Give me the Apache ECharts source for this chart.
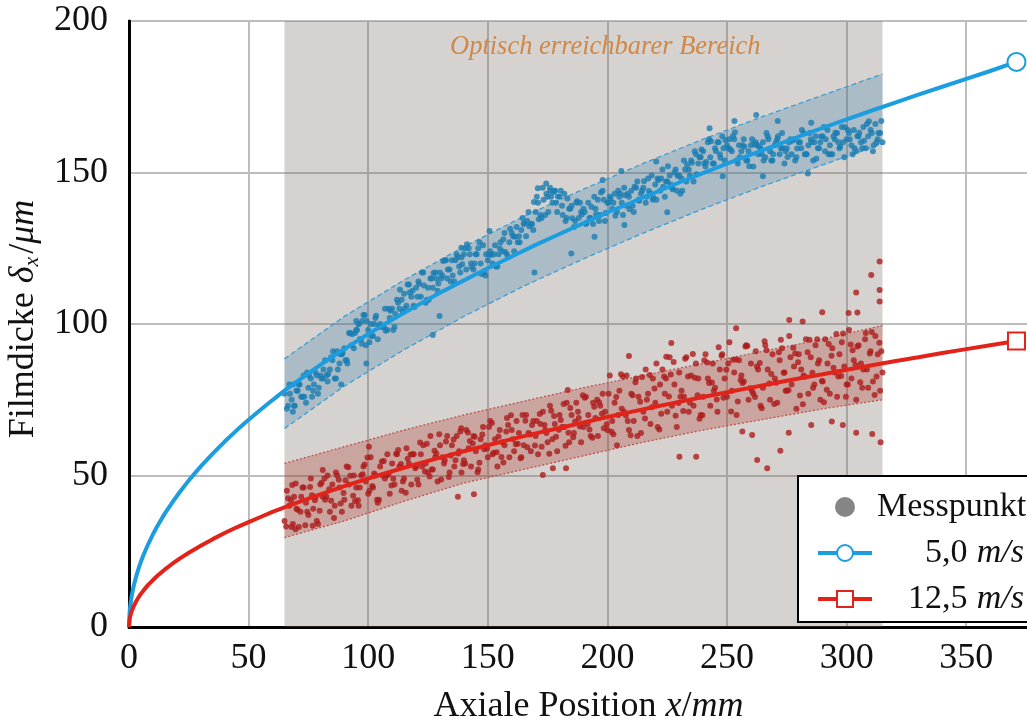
<!DOCTYPE html>
<html>
<head>
<meta charset="utf-8">
<script src="https://cdn.jsdelivr.net/npm/echarts@6/dist/echarts.min.js"></script>
<style>
    html, body { margin: 0; padding: 0; background: #fff; }
    #chart { width: 1027px; height: 724px; }
</style>
</head>
<body>
<div id="chart"></div>
<script>
// fitted curves
const fitX = [0, 0.25, 0.5, 1, 1.5, 2, 3, 4, 5, 6, 8, 10, 12, 15, 18, 21, 25, 30, 35, 40, 45, 50, 55, 60, 65, 70,
    80, 90, 100, 110, 120, 130, 140, 150, 160, 170, 180, 190, 200, 210, 220, 230, 240, 250, 260, 270, 280, 290,
    300, 310, 320, 330, 340, 350, 360, 371];
const blueFit = [0, 4.8, 6.8, 9.7, 11.8, 13.7, 16.7, 19.3, 21.6, 23.7, 27.3, 30.6, 33.5, 37.5, 41, 44.3, 48.4, 53, 57.2, 61.2, 64.9, 68.4, 71.7, 74.9, 78, 80.9,
    86.5, 91.7, 96.7, 101.4, 105.9, 110.3, 114.4, 118.4, 122.3, 126.1, 129.7, 133.3, 136.8, 140.1, 143.4, 146.7, 149.8, 152.9, 155.9, 158.9, 161.8, 164.7,
    167.5, 170.3, 173, 175.7, 178.3, 180.9, 183.5, 186.5];
const redFit = [0, 2.5, 3.5, 4.9, 6, 6.9, 8.5, 9.8, 11, 12, 13.9, 15.5, 17, 19, 20.8, 22.5, 24.5, 26.8, 29, 31, 32.9, 34.6, 36.3, 38, 39.5, 41,
    43.8, 46.5, 49, 51.4, 53.7, 55.9, 58, 60, 62, 63.9, 65.7, 67.5, 69.3, 71, 72.7, 74.3, 75.9, 77.5, 79, 80.5, 82, 83.4,
    84.9, 86.3, 87.7, 89, 90.4, 91.7, 93, 94.4];

// uncertainty bands
const bandX = [65, 90, 115, 140, 165, 190, 215, 240, 265, 290, 315];
const blueUpper = [88.5, 102.5, 114.5, 125.5, 135.5, 144.5, 153, 161, 168.5, 175.5, 182.5];
const blueLower = [65.5, 79.5, 91.5, 102.5, 112.5, 121.5, 130, 138, 145.5, 152.5, 159.5];
const redUpper = [54, 59.5, 65, 70, 74.5, 79, 83, 87, 91, 95, 99.5];
const redLower = [29.5, 35, 41.5, 47.5, 52, 56.5, 61, 65, 68.5, 72, 75];

// optically reachable range
const shadeRange = [65, 315];
const shadeLabel = 'Optisch erreichbarer Bereich';

const legendNames = ['Messpunkt', '5,0 m/s', '12,5 m/s'];

// measured points, 5,0 m/s
const bluePoints = [
    [65,77],[66,72],[67,80],[68,75],[69,73],[70,78],[71,80],[72,76],[73,83],[74,74],
    [75,79],[76,82],[77,78],[78,84],[79,77],[80,83],[81,82],[82,88],[83,81],[84,85],
    [85,88],[86,82],[87,91],[88,87],[89,90],[90,92],[91,88],[92,97],[93,93],[94,92],
    [95,98],[96,100],[97,95],[98,103],[99,93],[100,98],[101,100],[102,96],[103,102],[104,95],
    [105,100],[106,99],[107,105],[108,98],[109,102],[110,105],[111,99],[112,108],[113,105],[114,108],
    [115,110],[116,106],[117,113],[118,109],[119,106],[120,112],[121,114],[122,109],[123,117],[124,107],
    [125,112],[126,115],[127,112],[128,117],[129,111],[130,117],[131,116],[132,121],[133,115],[134,118],
    [135,121],[136,114],[137,123],[138,119],[139,122],[140,123],[141,118],[142,125],[143,120],[144,118],
    [145,123],[146,125],[147,120],[148,126],[149,116],[150,121],[151,124],[152,120],[153,126],[154,119],
    [155,125],[156,124],[157,130],[158,123],[159,127],[160,130],[161,124],[162,132],[163,129],[164,131],
    [165,133],[166,129],[167,137],[168,133],[169,131],[170,137],[171,140],[172,136],[173,145],[174,136],
    [175,142],[176,144],[177,140],[178,144],[179,137],[180,142],[181,139],[182,143],[183,135],[184,138],
    [185,139],[186,132],[187,140],[188,135],[189,137],[190,138],[191,133],[192,140],[193,135],[194,133],
    [195,138],[196,141],[197,136],[198,144],[199,134],[200,140],[201,142],[202,138],[203,143],[204,137],
    [205,142],[206,140],[207,145],[208,139],[209,142],[210,144],[211,137],[212,145],[213,141],[214,143],
    [215,145],[216,140],[217,148],[218,143],[219,141],[220,146],[221,148],[222,144],[223,151],[224,142],
    [225,147],[226,149],[227,145],[228,150],[229,144],[230,149],[231,148],[232,154],[233,147],[234,151],
    [235,154],[236,147],[237,156],[238,153],[239,155],[240,157],[241,152],[242,160],[243,155],[244,153],
    [245,158],[246,160],[247,156],[248,162],[249,154],[250,159],[251,161],[252,157],[253,161],[254,154],
    [255,159],[256,157],[257,161],[258,154],[259,157],[260,159],[261,152],[262,160],[263,156],[264,158],
    [265,160],[266,155],[267,162],[268,157],[269,154],[270,159],[271,161],[272,156],[273,163],[274,153],
    [275,158],[276,160],[277,156],[278,161],[279,155],[280,160],[281,158],[282,163],[283,156],[284,159],
    [285,161],[286,154],[287,162],[288,158],[289,160],[290,162],[291,157],[292,164],[293,159],[294,156],
    [295,161],[296,163],[297,158],[298,165],[299,155],[300,161],[301,163],[302,159],[303,164],[304,157],
    [305,162],[306,160],[307,165],[308,158],[309,162],[310,164],[311,157],[312,166],[313,161],[314,163],[315,160],
    [66.5,73],[68.5,80],[70.5,78],[72.5,76],[74.5,84],[76.5,76],[78.5,83],[80.5,82],[82.5,83],[84.5,89],
    [86.5,82],[88.5,90],[90.5,88],[92.5,97],[94.5,97],[96.5,95],[98.5,103],[100.5,94],[102.5,100],[104.5,99],
    [106.5,99],[108.5,105],[110.5,98],[112.5,107],[114.5,104],[116.5,113],[118.5,111],[120.5,109],[122.5,117],[124.5,108],
    [126.5,115],[128.5,115],[130.5,115],[132.5,121],[134.5,114],[136.5,121],[138.5,117],[140.5,125],[142.5,123],[144.5,120],
    [146.5,127],[148.5,117],[150.5,123],[152.5,123],[154.5,123],[156.5,128],[158.5,122],[160.5,129],[162.5,127],[164.5,135],
    [166.5,134],[168.5,133],[170.5,142],[172.5,135],[174.5,143],[176.5,142],[178.5,140],[180.5,144],[182.5,134],[184.5,138],
    [186.5,134],[188.5,140],[190.5,137],[192.5,135],[194.5,142],[196.5,134],[198.5,141],[200.5,140],[202.5,140],[204.5,144],
    [206.5,136],[208.5,143],[210.5,139],[212.5,147],[214.5,144],[216.5,142],[218.5,149],[220.5,141],[222.5,148],[224.5,147],
    [226.5,146],[228.5,151],[230.5,143],[232.5,151],[234.5,149],[236.5,157],[238.5,155],[240.5,153],[242.5,161],[244.5,153],
    [246.5,160],[248.5,158],[250.5,158],[252.5,162],[254.5,153],[256.5,159],[258.5,154],[260.5,161],[262.5,159],[264.5,156],
    [266.5,163],[268.5,154],[270.5,160],[272.5,158],[274.5,157],[276.5,161],[278.5,154],[280.5,160],[282.5,156],[284.5,163],
    [286.5,160],[288.5,158],[290.5,165],[292.5,156],[294.5,162],[296.5,160],[298.5,160],[300.5,164],[302.5,156],[304.5,162],
    [306.5,158],[308.5,166],[310.5,163],[312.5,160],[314.5,167],
    [67.3,77],[69.3,73],[71.3,80],[73.3,76],[75.3,83],[77.3,80],[79.3,79],[81.3,85],[83.3,83.5],[85.3,91],
    [87.3,85],[89.3,90.5],[91.3,87],[93.3,96.6],[95.3,98],[97.3,93.5],[99.3,101],[101.3,96],[103.3,102.7],[105.3,99.2],
    [107.3,97.8],[109.3,104.4],[111.3,103.3],[113.3,111.3],[115.3,105],[117.3,110.4],[119.3,105.6],[121.3,113.3],[123.3,112.7],[125.3,108],
    [127.3,116.8],[129.3,113.4],[131.3,120.8],[133.3,118],[135.3,116],[137.3,122],[139.3,119.7],[141.3,126.3],[143.3,118.7],[145.3,123],
    [147.3,116.5],[149.3,123],[151.3,122.8],[153.3,119],[155.3,127],[157.3,123.8],[159.3,131.4],[161.3,128.8],[163.3,127],[165.3,133.3],
    [167.3,132.3],[169.3,140.3],[171.3,134.6],[173.3,141],[175.3,137],[177.3,143.5],[179.3,142.1],[181.3,136],[183.3,141.4],[185.3,134.9],
    [187.3,140.5],[189.3,136.1],[191.3,133.3],[193.3,138.7],[195.3,136.2],[197.3,143.4],[199.3,136.6],[201.3,141.3],[203.3,135.7],[205.3,143.1],
    [207.3,142.5],[209.3,137.9],[211.3,145.3],[213.3,140.7],[215.3,147.1],[217.3,143.9],[219.3,141.7],[221.3,147.5],[223.3,145.3],[225.3,152.1],
    [227.3,144.5],[229.3,148.9],[231.3,144],[233.3,152.6],[235.3,153.2],[237.3,149.4],[239.3,157.6],[241.3,153.5],[243.3,160.3],[245.3,157.1],
    [247.3,154.9],[249.3,160.7],[251.3,157.7],[253.3,163.3],[255.3,155],[257.3,158.5],[259.3,152.1],[261.3,159.3],[263.3,158.7],[265.3,154],
    [267.3,161],[269.3,156],[271.3,162],[273.3,158],[275.3,155.1],[277.3,160.5],[279.3,157.9],[281.3,164],[283.3,156],[285.3,160.1],
    [287.3,154.5],[289.3,161.9],[291.3,161],[293.3,156],[295.3,163.1],[297.3,158.5],[299.3,164.9],[301.3,161],[303.3,158],[305.3,163.1],
    [307.3,160.5],[309.3,166.9],[311.3,159],[313.3,163],
    [68.5,71],[88.7,80],[99.2,87],[95,101],[96,100],[97.5,101],[127,96.4],[129.8,102.6],[138.9,125.2],[150.7,130.7],
    [169.5,117],[170.9,144.8],[174.4,146.4],[176,145],[178,144],[184.9,123.3],[194.6,128.8],[198,147.5],[205.8,150.5],[207.1,132.7],
    [220.4,153.6],[225,136.9],[242.7,164.6],[248.2,148.8],[253.1,167],[262.2,169],[265,148.8],[271.2,167],[283.8,149.7],[285.2,166.4]
];

// measured points, 12,5 m/s
const redPoints = [
    [65,35],[66,45],[67,40],[68,33],[69,43],[70,39],[71,33],[72,43],[73,46],[74,41],
    [75,37],[76,49],[77,39],[78,43],[79,34],[80,47],[81,43],[82,42],[83,50],[84,38],
    [85,47],[86,40],[87,50],[88,46],[89,38],[90,42],[91,53],[92,47],[93,40],[94,50],
    [95,46],[96,40],[97,50],[98,53],[99,48],[100,44],[101,56],[102,46],[103,50],[104,41],
    [105,53],[106,50],[107,49],[108,57],[109,44],[110,54],[111,47],[112,57],[113,53],[114,45],
    [115,49],[116,59],[117,54],[118,47],[119,57],[120,53],[121,47],[122,57],[123,60],[124,54],
    [125,51],[126,63],[127,52],[128,56],[129,48],[130,60],[131,56],[132,55],[133,63],[134,51],
    [135,60],[136,53],[137,63],[138,58],[139,51],[140,55],[141,65],[142,59],[143,53],[144,63],
    [145,58],[146,52],[147,62],[148,66],[149,60],[150,56],[151,68],[152,57],[153,62],[154,53],
    [155,65],[156,61],[157,60],[158,69],[159,56],[160,65],[161,58],[162,68],[163,64],[164,56],
    [165,60],[166,70],[167,64],[168,58],[169,68],[170,63],[171,57],[172,67],[173,71],[174,65],
    [175,61],[176,73],[177,62],[178,67],[179,58],[180,70],[181,66],[182,66],[183,74],[184,61],
    [185,70],[186,64],[187,74],[188,69],[189,61],[190,66],[191,76],[192,70],[193,63],[194,74],
    [195,69],[196,63],[197,73],[198,77],[199,71],[200,65],[201,83],[202,68],[203,74],[204,60],
    [205,78],[206,72],[207,71],[208,83],[209,65],[210,77],[211,68],[212,82],[213,76],[214,64],
    [215,71],[216,85],[217,77],[218,67],[219,82],[220,74],[221,66],[222,80],[223,85],[224,77],
    [225,71],[226,89],[227,73],[228,80],[229,66],[230,84],[231,78],[232,76],[233,89],[234,71],
    [235,83],[236,73],[237,87],[238,82],[239,70],[240,76],[241,90],[242,82],[243,73],[244,87],
    [245,79],[246,71],[247,85],[248,90],[249,82],[250,76],[251,94],[252,78],[253,84],[254,70],
    [255,88],[256,83],[257,81],[258,93],[259,75],[260,87],[261,77],[262,91],[263,85],[264,73],
    [265,79],[266,93],[267,85],[268,75],[269,90],[270,82],[271,74],[272,88],[273,92],[274,84],
    [275,78],[276,96],[277,80],[278,86],[279,72],[280,90],[281,85],[282,83],[283,95],[284,77],
    [285,89],[286,79],[287,93],[288,87],[289,75],[290,81],[291,95],[292,87],[293,77],[294,92],
    [295,84],[296,76],[297,90],[298,94],[299,86],[300,80],[301,98],[302,82],[303,88],[304,75],
    [305,93],[306,87],[307,85],[308,97],[309,79],[310,91],[311,81],[312,96],[313,90],[314,78],[315,84],
    [66.5,42.5],[68.5,34],[70.5,38.7],[72.5,46],[74.5,38],[76.5,43.5],[78.5,35],[80.5,47.6],[82.5,43],[84.5,41.7],
    [86.5,51],[88.5,40.8],[90.5,48.4],[92.5,49.9],[94.5,41.5],[96.5,46],[98.5,53.6],[100.5,45],[102.5,50.7],[104.5,42],
    [106.5,54.8],[108.5,50.3],[110.5,48.9],[112.5,58.4],[114.5,48],[116.5,55.5],[118.5,57],[120.5,48.6],[122.5,53],[124.5,60.5],
    [126.5,52],[128.5,57.3],[130.5,48.7],[132.5,61.2],[134.5,56.6],[136.5,55],[138.5,64.5],[140.5,54],[142.5,61.4],[144.5,62.8],
    [146.5,54.2],[148.5,58.7],[150.5,66],[152.5,57.5],[154.5,62.9],[156.5,54.3],[158.5,66.7],[160.5,62],[162.5,60.5],[164.5,70],
    [166.5,59.3],[168.5,66.7],[170.5,68],[172.5,59.5],[174.5,64],[176.5,71.4],[178.5,62.8],[180.5,68.3],[182.5,59.8],[184.5,72.3],
    [186.5,67.8],[188.5,66.2],[190.5,75.7],[192.5,65.2],[194.5,72.7],[196.5,74.2],[198.5,65.6],[200.5,77],[202.5,63.6],[204.5,70],
    [206.5,82.6],[208.5,68],[210.5,76.5],[212.5,63],[214.5,82.5],[216.5,75],[218.5,72.5],[220.5,87],[222.5,70.4],[224.5,82],
    [226.5,83.3],[228.5,69.7],[230.5,76],[232.5,88.5],[234.5,74],[236.5,82.3],[238.5,68.7],[240.5,88],[242.5,80.5],[244.5,78],
    [246.5,92.3],[248.5,75.7],[250.5,87],[252.5,88.2],[254.5,74.4],[256.5,80.5],[258.5,92.7],[260.5,77.8],[262.5,86],[264.5,72.2],
    [266.5,91.3],[268.5,83.5],[270.5,80.6],[272.5,94.8],[274.5,78],[276.5,89],[278.5,90.3],[280.5,76.4],[282.5,82.6],[284.5,94.8],
    [286.5,80],[288.5,88],[290.5,74.2],[292.5,93.4],[294.5,85.6],[296.5,82.7],[298.5,96.9],[300.5,80],[302.5,91.3],[304.5,92.6],
    [306.5,79],[308.5,85],[310.5,97.4],[312.5,82.7],[314.5,91],
    [65.7,33.2],[67.7,41.8],[69.7,47.4],[71.7,38],[73.7,33.6],[75.7,46.2],[77.7,41.8],[79.7,38.4],[81.7,49],[83.7,45.5],
    [85.7,36],[87.7,48.6],[89.7,44.2],[91.7,52.7],[93.7,43.3],[95.7,41.8],[97.7,50.4],[99.7,55.9],[101.7,46.5],[103.7,42],
    [105.7,54.6],[107.7,50.1],[109.7,46.7],[111.7,57.2],[113.7,53.8],[115.7,44.3],[117.7,56.9],[119.7,52.4],[121.7,60.9],[123.7,51.3],
    [125.7,49.7],[127.7,58.2],[129.7,63.6],[131.7,54],[133.7,49.5],[135.7,61.9],[137.7,57.3],[139.7,53.8],[141.7,64.2],[143.7,60.6],
    [145.7,51.1],[147.7,63.5],[149.7,58.9],[151.7,67.3],[153.7,57.7],[155.7,56.1],[157.7,64.5],[159.7,69.9],[161.7,60.3],[163.7,55.7],
    [165.7,68.1],[167.7,63.5],[169.7,59.9],[171.7,70.3],[173.7,66.7],[175.7,57.2],[177.7,69.6],[179.7,65.1],[181.7,73.6],[183.7,64.1],
    [185.7,62.6],[187.7,71],[189.7,76.5],[191.7,67],[193.7,62.5],[195.7,75],[197.7,70.4],[199.7,66.9],[201.7,64.4],[203.7,75.9],
    [205.7,83.4],[207.7,69.8],[209.7,63.3],[211.7,80.8],[213.7,74.3],[215.7,68.8],[217.7,83.2],[219.7,78.7],[221.7,65.2],[223.7,82.7],
    [225.7,76.1],[227.7,87.5],[229.7,73.9],[231.7,71.3],[233.7,82.7],[235.7,90.1],[237.7,76.5],[239.7,69.9],[241.7,87.3],[243.7,80.7],
    [245.7,75.1],[247.7,89.5],[249.7,84.9],[251.7,71.1],[253.7,88.3],[255.7,81.5],[257.7,92.6],[259.7,78.8],[261.7,75.9],[263.7,87.1],
    [265.7,94.3],[267.7,80.4],[269.7,73.6],[271.7,90.7],[273.7,83.9],[275.7,78.1],[277.7,92.2],[279.7,87.4],[281.7,73.5],[283.7,90.7],
    [285.7,83.9],[287.7,95],[289.7,81.2],[291.7,78.3],[293.7,89.5],[295.7,96.7],[297.7,82.8],[299.7,76],[301.7,93.2],[303.7,86.5],
    [305.7,80.8],[307.7,95],[309.7,90.3],[311.7,76.6],[313.7,93.8],
    [313.8,120.6],[310.3,116.2],[313.8,111.2],[313.8,107.4],[304,110.4],[289.8,103.9],[300.8,103.6],[304.5,103.8],[276,101.3],[281.6,100.8],
    [253.8,98.6],[226.7,93.7],[209,89.4],[224.6,89.2],[230.1,56.2],[237.1,56.2],[262.6,55.1],[266.8,52.4],[272.3,58.2],[256.4,64.5],
    [260.5,63.4],[275.8,64.1],[304,64.1],[310.7,63.7],[314.2,61],[298.4,66.7],[293.8,67.8],[285.2,66.7],[137.5,43],[144.2,43.8],
    [68.2,46.9],[81,51.8],[100.3,59.5],[138.9,65.6],[183.4,78.2],[173,50.2],[177.2,52.4],[182.7,52.4],[76.8,33.4],[69.6,32.3]
];

const font = "'Liberation Serif', 'DejaVu Serif', serif";
const textColor = '#111';
const blue = '#1b9de0';
const red = '#e2231a';

const chart = echarts.init(document.getElementById('chart'));

const toPairs = (xs, ys) => xs.map((x, i) => [x, ys[i]]);
const lastIndex = fitX.length - 1;

const bandSeries = (upper, lower, fill) => ({
    type: 'custom',
    silent: true,
    z: 2,
    data: [[bandX[0], lower[0]]],
    renderItem: (params, api) => {
        const points = bandX.map((x, i) => api.coord([x, upper[i]]));
        for (let i = bandX.length - 1; i >= 0; i--) {
            points.push(api.coord([bandX[i], lower[i]]));
        }
        return { type: 'polygon', shape: { points }, style: { fill } };
    },
});

const edgeSeries = (values, color, dash) => ({
    type: 'line',
    silent: true,
    z: 3,
    data: toPairs(bandX, values),
    symbol: 'none',
    lineStyle: { color, width: 1.3, type: dash },
});

const fitSeries = (name, values, color, symbol, size) => ({
    name,
    type: 'line',
    z: 5,
    data: toPairs(fitX, values),
    symbol,
    showAllSymbol: true,
    symbolSize: (val, params) => (params.dataIndex === lastIndex ? size : 0),
    lineStyle: { color, width: 4 },
    itemStyle: { color, borderWidth: 4 },
});

const option = {
    animation: false,
    title: {
        text: shadeLabel,
        left: 450,
        top: 34,
        padding: 0,
        textStyle: { fontFamily: font, fontStyle: 'italic', fontWeight: 'normal', fontSize: 26.5, color: '#cf8848' },
    },
    grid: {
        left: 129,
        top: 21,
        width: 909,
        height: 606,
        outerBoundsMode: 'none',
        containLabel: false,
        show: true,
        borderColor: '#000',
        borderWidth: 2,
    },
    legend: {
        data: legendNames,
        orient: 'vertical',
        left: 798,
        top: 476,
        z: 10,
        itemWidth: 54,
        itemHeight: 20,
        itemGap: 12,
        padding: [14, 10, 6, 18],
        backgroundColor: '#fff',
        borderColor: '#000',
        borderWidth: 2,
        selectedMode: false,
        lineStyle: { width: 4 },
        formatter: (name) => {
            if (name === 'Messpunkt') {
                return '{t|' + name + '}';
            }
            const [num, unit] = name.split(' ');
            return '{n|' + num + ' }{i|' + unit + '}';
        },
        textStyle: {
            fontFamily: font,
            fontSize: 34,
            color: textColor,
            rich: {
                t: { fontFamily: font, fontSize: 34, color: textColor, width: 147 },
                n: { fontFamily: font, fontSize: 34, color: textColor, width: 99, align: 'right' },
                i: { fontFamily: font, fontSize: 34, color: textColor, fontStyle: 'italic', width: 48, align: 'right' },
            },
        },
    },
    xAxis: {
        type: 'value',
        min: 0,
        max: 380,
        interval: 50,
        name: '{a|Axiale Position }{i|x}{a|/}{i|mm}',
        nameLocation: 'middle',
        nameGap: 60,
        nameTextStyle: {
            padding: [0, 0, 0, 10],
            rich: {
                a: { fontFamily: font, fontSize: 36, color: textColor, lineHeight: 40 },
                i: { fontFamily: font, fontSize: 36, color: textColor, fontStyle: 'italic', lineHeight: 40 },
            },
        },
        axisLine: { show: true, lineStyle: { color: '#000', width: 3 } },
        axisTick: { show: false },
        axisLabel: { fontFamily: font, fontSize: 36, color: textColor, margin: 14, showMaxLabel: false },
        splitLine: { show: true, lineStyle: { color: '#bdbdbd', width: 2 } },
    },
    yAxis: {
        type: 'value',
        min: 0,
        max: 200,
        interval: 50,
        name: '{a|Filmdicke }{d|δ}{s|x}{a|/}{d|μm}',
        nameLocation: 'middle',
        nameGap: 78,
        nameTextStyle: {
            padding: [0, 0, 0, 10],
            rich: {
                a: { fontFamily: font, fontSize: 36, color: textColor, lineHeight: 40 },
                d: { fontFamily: font, fontSize: 36, color: textColor, fontStyle: 'italic', lineHeight: 40 },
                s: { fontFamily: font, fontSize: 22, color: textColor, fontStyle: 'italic', lineHeight: 22, verticalAlign: 'bottom', padding: [0, 3, 0, 0] },
            },
        },
        axisLine: { show: true, lineStyle: { color: '#000', width: 3 } },
        axisTick: { show: false },
        axisLabel: { fontFamily: font, fontSize: 36, color: textColor, margin: 21 },
        splitLine: { show: true, lineStyle: { color: '#bdbdbd', width: 2 } },
    },
    series: [
        {
            type: 'line',
            silent: true,
            z: 1,
            data: [[shadeRange[0], 0]],
            symbol: 'none',
            lineStyle: { opacity: 0 },
            markArea: {
                silent: true,
                itemStyle: { color: 'rgba(120,105,95,0.3)' },
                data: [[{ xAxis: shadeRange[0] }, { xAxis: shadeRange[1] }]],
            },
        },
        bandSeries(blueUpper, blueLower, 'rgba(40,120,170,0.25)'),
        bandSeries(redUpper, redLower, 'rgba(170,45,35,0.28)'),
        edgeSeries(blueUpper, '#3a9ed4', [5, 3]),
        edgeSeries(blueLower, '#3a9ed4', [5, 3]),
        edgeSeries(redUpper, '#c0504d', [2, 2]),
        edgeSeries(redLower, '#c0504d', [2, 2]),
        {
            type: 'scatter',
            z: 4,
            data: bluePoints,
            symbolSize: 6,
            itemStyle: { color: '#1a7db2' },
        },
        {
            type: 'scatter',
            z: 4,
            data: redPoints,
            symbolSize: 6,
            itemStyle: { color: '#ad1d1d' },
        },
        fitSeries(legendNames[1], blueFit, blue, 'emptyCircle', 18),
        fitSeries(legendNames[2], redFit, red, 'emptyRect', 17),
        {
            name: legendNames[0],
            type: 'scatter',
            data: [],
            itemStyle: { color: '#676767' },
        },
    ],
};

chart.setOption(option);
</script>
</body>
</html>
